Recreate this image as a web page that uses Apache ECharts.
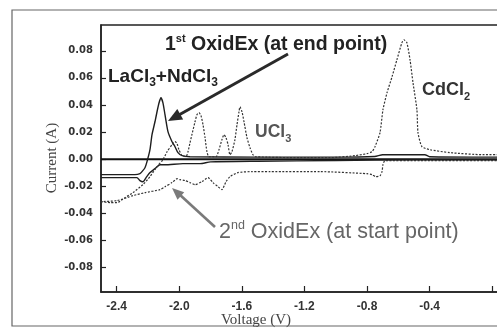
<!DOCTYPE html>
<html><head><meta charset="utf-8">
<script src="https://cdn.jsdelivr.net/npm/echarts@6/dist/echarts.min.js"></script>
<style>html,body{margin:0;padding:0;background:#fff}#c{width:497px;height:328px}</style>
</head><body><div id="c"></div>
<script>
// Axis ticks
const xTicks = [-2.4, -2.0, -1.6, -1.2, -0.8, -0.4, 0.0];
const xLabels = [-2.4, -2.0, -1.6, -1.2, -0.8, -0.4];
const yTicks = [-0.08, -0.06, -0.04, -0.02, 0.00, 0.02, 0.04, 0.06, 0.08];

// 1st OxidEx (at end point) - solid, anodic branch
const firstFwdV = [-2.50,-2.283,-2.251,-2.238,-2.219,-2.206,-2.187,-2.174,-2.155,-2.142,-2.129,-2.117,-2.104,-2.091,-2.072,-2.046,-2.027,-2.008,-1.982,-1.931,-1.5,-1.0,-0.75,-0.70,-0.43,-0.40,0.05];
const firstFwdI = [-0.0114,-0.0114,-0.0107,-0.0092,-0.0063,-0.0018,0.0070,0.0181,0.0276,0.0350,0.0416,0.0453,0.0416,0.0328,0.0203,0.0129,0.0092,0.0048,0.0026,0.0018,0.0015,0.0015,0.0020,0.0033,0.0033,0.0018,0.0015];
// 1st OxidEx - solid, return branch
const firstRevV = [0.05,-0.5,-1.0,-1.5,-1.8,-1.867,-1.976,-2.091,-2.123,-2.155,-2.187,-2.212,-2.232,-2.251,-2.270,-2.315,-2.50];
const firstRevI = [-0.0005,-0.0005,-0.001,-0.0015,-0.002,-0.0033,-0.0033,-0.0041,-0.0041,-0.0070,-0.0099,-0.0136,-0.0166,-0.0158,-0.0136,-0.0136,-0.0136];

// 2nd OxidEx (at start point) - dotted, anodic branch
const secondFwdV = [-2.50,-2.442,-2.398,-2.347,-2.296,-2.232,-2.187,-2.142,-2.104,-2.078,-2.046,-2.027,-2.014,-2.002,-1.982,-1.957,-1.944,-1.931,-1.919,-1.899,-1.887,-1.874,-1.861,-1.848,-1.835,-1.823,-1.810,-1.765,-1.746,-1.727,-1.714,-1.701,-1.688,-1.676,-1.663,-1.644,-1.631,-1.618,-1.612,-1.599,-1.586,-1.567,-1.548,-1.529,-1.510,-1.228,-1.037,-0.877,-0.800,-0.768,-0.749,-0.717,-0.698,-0.672,-0.640,-0.609,-0.577,-0.564,-0.545,-0.525,-0.506,-0.481,-0.474,-0.449,-0.398,-0.270,-0.059,0.05];
const secondFwdI = [-0.0313,-0.0321,-0.0321,-0.0284,-0.0247,-0.0188,-0.0129,-0.0055,-0.0004,0.0055,0.0107,0.0129,0.0114,0.0070,0.0026,0.0018,0.0055,0.0122,0.0181,0.0276,0.0328,0.0343,0.0321,0.0254,0.0158,0.0055,0.0018,0.0018,0.0070,0.0144,0.0181,0.0158,0.0107,0.0033,0.0055,0.0144,0.0254,0.0350,0.0387,0.0350,0.0276,0.0158,0.0085,0.0033,0.0018,0.0011,0.0011,0.0026,0.0041,0.0055,0.0092,0.0195,0.0365,0.0490,0.0608,0.0733,0.0859,0.0881,0.0859,0.0733,0.0564,0.0365,0.0195,0.0092,0.0070,0.0048,0.0033,0.0033];
// 2nd OxidEx - dotted, return branch
const secondRevV = [0.05,-0.462,-0.685,-0.698,-0.704,-0.717,-0.743,-0.768,-0.800,-1.100,-1.420,-1.535,-1.625,-1.676,-1.701,-1.727,-1.752,-1.784,-1.816,-1.855,-1.899,-1.931,-1.963,-1.995,-2.014,-2.046,-2.091,-2.123,-2.219,-2.296,-2.398,-2.50];
const secondRevI = [-0.0011,-0.0011,-0.0011,-0.0041,-0.0092,-0.0122,-0.0129,-0.0114,-0.0107,-0.0092,-0.0092,-0.0092,-0.0099,-0.0129,-0.0166,-0.0225,-0.0203,-0.0173,-0.0136,-0.0166,-0.0188,-0.0173,-0.0158,-0.0151,-0.0144,-0.0173,-0.0203,-0.0225,-0.0247,-0.0269,-0.0306,-0.0313];

// zero-current baseline
const zeroV = [-2.50, 0.05];
const zeroI = [0, 0];

const zip = (a, b) => a.map((v, i) => [v, b[i]]);

const chart = echarts.init(document.getElementById('c'), null, {renderer: 'canvas'});
const solid = {type: 'solid', color: '#1e1e1e', width: 1.4};
const dotted = {type: [2, 1.5], color: '#333', width: 1.2};

function arrowHead(tip, from, len, half) {
  const dx = tip[0] - from[0], dy = tip[1] - from[1];
  const L = Math.hypot(dx, dy), ux = dx / L, uy = dy / L;
  const bx = tip[0] - ux * len, by = tip[1] - uy * len;
  return [[tip[0], tip[1]], [bx - uy * half, by + ux * half], [bx + uy * half, by - ux * half]];
}
const a1from = [288, 54], a1tip = [168, 121];
const a2from = [215, 227], a2tip = [172, 188];

const sans = "'Liberation Sans', Arial, sans-serif";
const serif = "'Liberation Serif', 'Times New Roman', serif";

chart.setOption({
  backgroundColor: '#fff',
  animation: false,
  grid: {left: 101, top: 25, width: 399, height: 267, outerBoundsMode: 'none', containLabel: false,
    show: true, borderColor: '#222', borderWidth: 1.5, backgroundColor: 'transparent'},
  xAxis: {
    type: 'value', min: -2.5, max: 0.05,
    axisLine: {show: true, onZero: false, lineStyle: {color: '#222', width: 1.5}},
    axisTick: {show: true, inside: true, length: 6, customValues: xTicks, lineStyle: {color: '#222', width: 1.2}},
    axisLabel: {customValues: xLabels, margin: 9, fontFamily: sans, fontWeight: 'bold', fontSize: 12, color: '#333', formatter: v => v.toFixed(1)},
    splitLine: {show: false}
  },
  yAxis: {
    type: 'value', min: -0.098, max: 0.099,
    axisLine: {show: true, onZero: false, lineStyle: {color: '#222', width: 1.5}},
    axisTick: {show: true, inside: true, length: 5, customValues: yTicks, lineStyle: {color: '#222', width: 1.2}},
    axisLabel: {customValues: yTicks, margin: 8, fontFamily: "'DejaVu Sans', sans-serif", fontWeight: 'bold', fontSize: 10, color: '#333',
      formatter: v => (Math.abs(v) < 1e-9 ? '0.00' : v.toFixed(2))},
    splitLine: {show: false}
  },
  series: [
    {type: 'line', name: 'zero', data: zip(zeroV, zeroI), showSymbol: false, lineStyle: {color: '#111', width: 2}, z: 3},
    {type: 'line', name: '1st fwd', data: zip(firstFwdV, firstFwdI), showSymbol: false, smooth: 0.2, lineStyle: solid},
    {type: 'line', name: '1st rev', data: zip(firstRevV, firstRevI), showSymbol: false, smooth: 0.2, lineStyle: solid},
    {type: 'line', name: '2nd fwd', data: zip(secondFwdV, secondFwdI), showSymbol: false, smooth: 0.2, lineStyle: dotted},
    {type: 'line', name: '2nd rev', data: zip(secondRevV, secondRevI), showSymbol: false, smooth: 0.2, lineStyle: dotted}
  ],
  graphic: [
    {type: 'rect', shape: {x: 12, y: 10, width: 500, height: 316}, style: {fill: 'none', stroke: '#666', lineWidth: 1.2}, z: 0, silent: true},
    // dark arrow
    {type: 'line', shape: {x1: a1from[0], y1: a1from[1], x2: a1tip[0] + 9, y2: a1tip[1] - 5}, style: {stroke: '#2a2a2a', lineWidth: 3}, z: 10},
    {type: 'polygon', shape: {points: arrowHead(a1tip, a1from, 14, 6)}, style: {fill: '#2a2a2a'}, z: 10},
    // gray arrow
    {type: 'line', shape: {x1: a2from[0], y1: a2from[1], x2: a2tip[0] + 7, y2: a2tip[1] + 6}, style: {stroke: '#7a7a7a', lineWidth: 2.6}, z: 10},
    {type: 'polygon', shape: {points: arrowHead(a2tip, a2from, 12, 5)}, style: {fill: '#7a7a7a'}, z: 10},
    // annotations
    {type: 'text', x: 165, y: 33, z: 10, style: {text: '{n|1}{s|st}{n| OxidEx (at end point)}', rich: {
      n: {fontFamily: sans, fontWeight: 'bold', fontSize: 19.5, lineHeight: 24, fill: '#222'},
      s: {fontFamily: sans, fontWeight: 'bold', fontSize: 11, lineHeight: 24, verticalAlign: 'top', fill: '#222'}}}},
    {type: 'text', x: 108, y: 65, z: 10, style: {text: '{n|LaCl}{b|3}{n|+NdCl}{b|3}', rich: {
      n: {fontFamily: sans, fontWeight: 'bold', fontSize: 19, lineHeight: 24, fill: '#222'},
      b: {fontFamily: sans, fontWeight: 'bold', fontSize: 12, lineHeight: 24, verticalAlign: 'bottom', fill: '#222'}}}},
    {type: 'text', x: 422, y: 78, z: 10, style: {text: '{n|CdCl}{b|2}', rich: {
      n: {fontFamily: sans, fontWeight: 'bold', fontSize: 18, lineHeight: 24, fill: '#333'},
      b: {fontFamily: sans, fontWeight: 'bold', fontSize: 11, lineHeight: 24, verticalAlign: 'bottom', fill: '#333'}}}},
    {type: 'text', x: 255, y: 120, z: 10, style: {text: '{n|UCl}{b|3}', rich: {
      n: {fontFamily: sans, fontWeight: 'bold', fontSize: 17.5, lineHeight: 24, fill: '#555'},
      b: {fontFamily: sans, fontWeight: 'bold', fontSize: 11, lineHeight: 24, verticalAlign: 'bottom', fill: '#555'}}}},
    {type: 'text', x: 219, y: 219, z: 10, style: {text: '{n|2}{s|nd}{n| OxidEx (at start point)}', rich: {
      n: {fontFamily: sans, fontSize: 21.5, lineHeight: 26, fill: '#666'},
      s: {fontFamily: sans, fontSize: 12.5, lineHeight: 26, verticalAlign: 'top', fill: '#666'}}}},
    // axis titles
    {type: 'text', x: 256, y: 320, z: 10, style: {text: 'Voltage (V)', fontFamily: serif, fontSize: 15, fill: '#444', align: 'center', verticalAlign: 'middle'}},
    {type: 'text', x: 52, y: 158, rotation: Math.PI / 2, z: 10, style: {text: 'Current (A)', fontFamily: serif, fontSize: 15, fill: '#444', align: 'center', verticalAlign: 'middle'}}
  ]
});
</script></body></html>
